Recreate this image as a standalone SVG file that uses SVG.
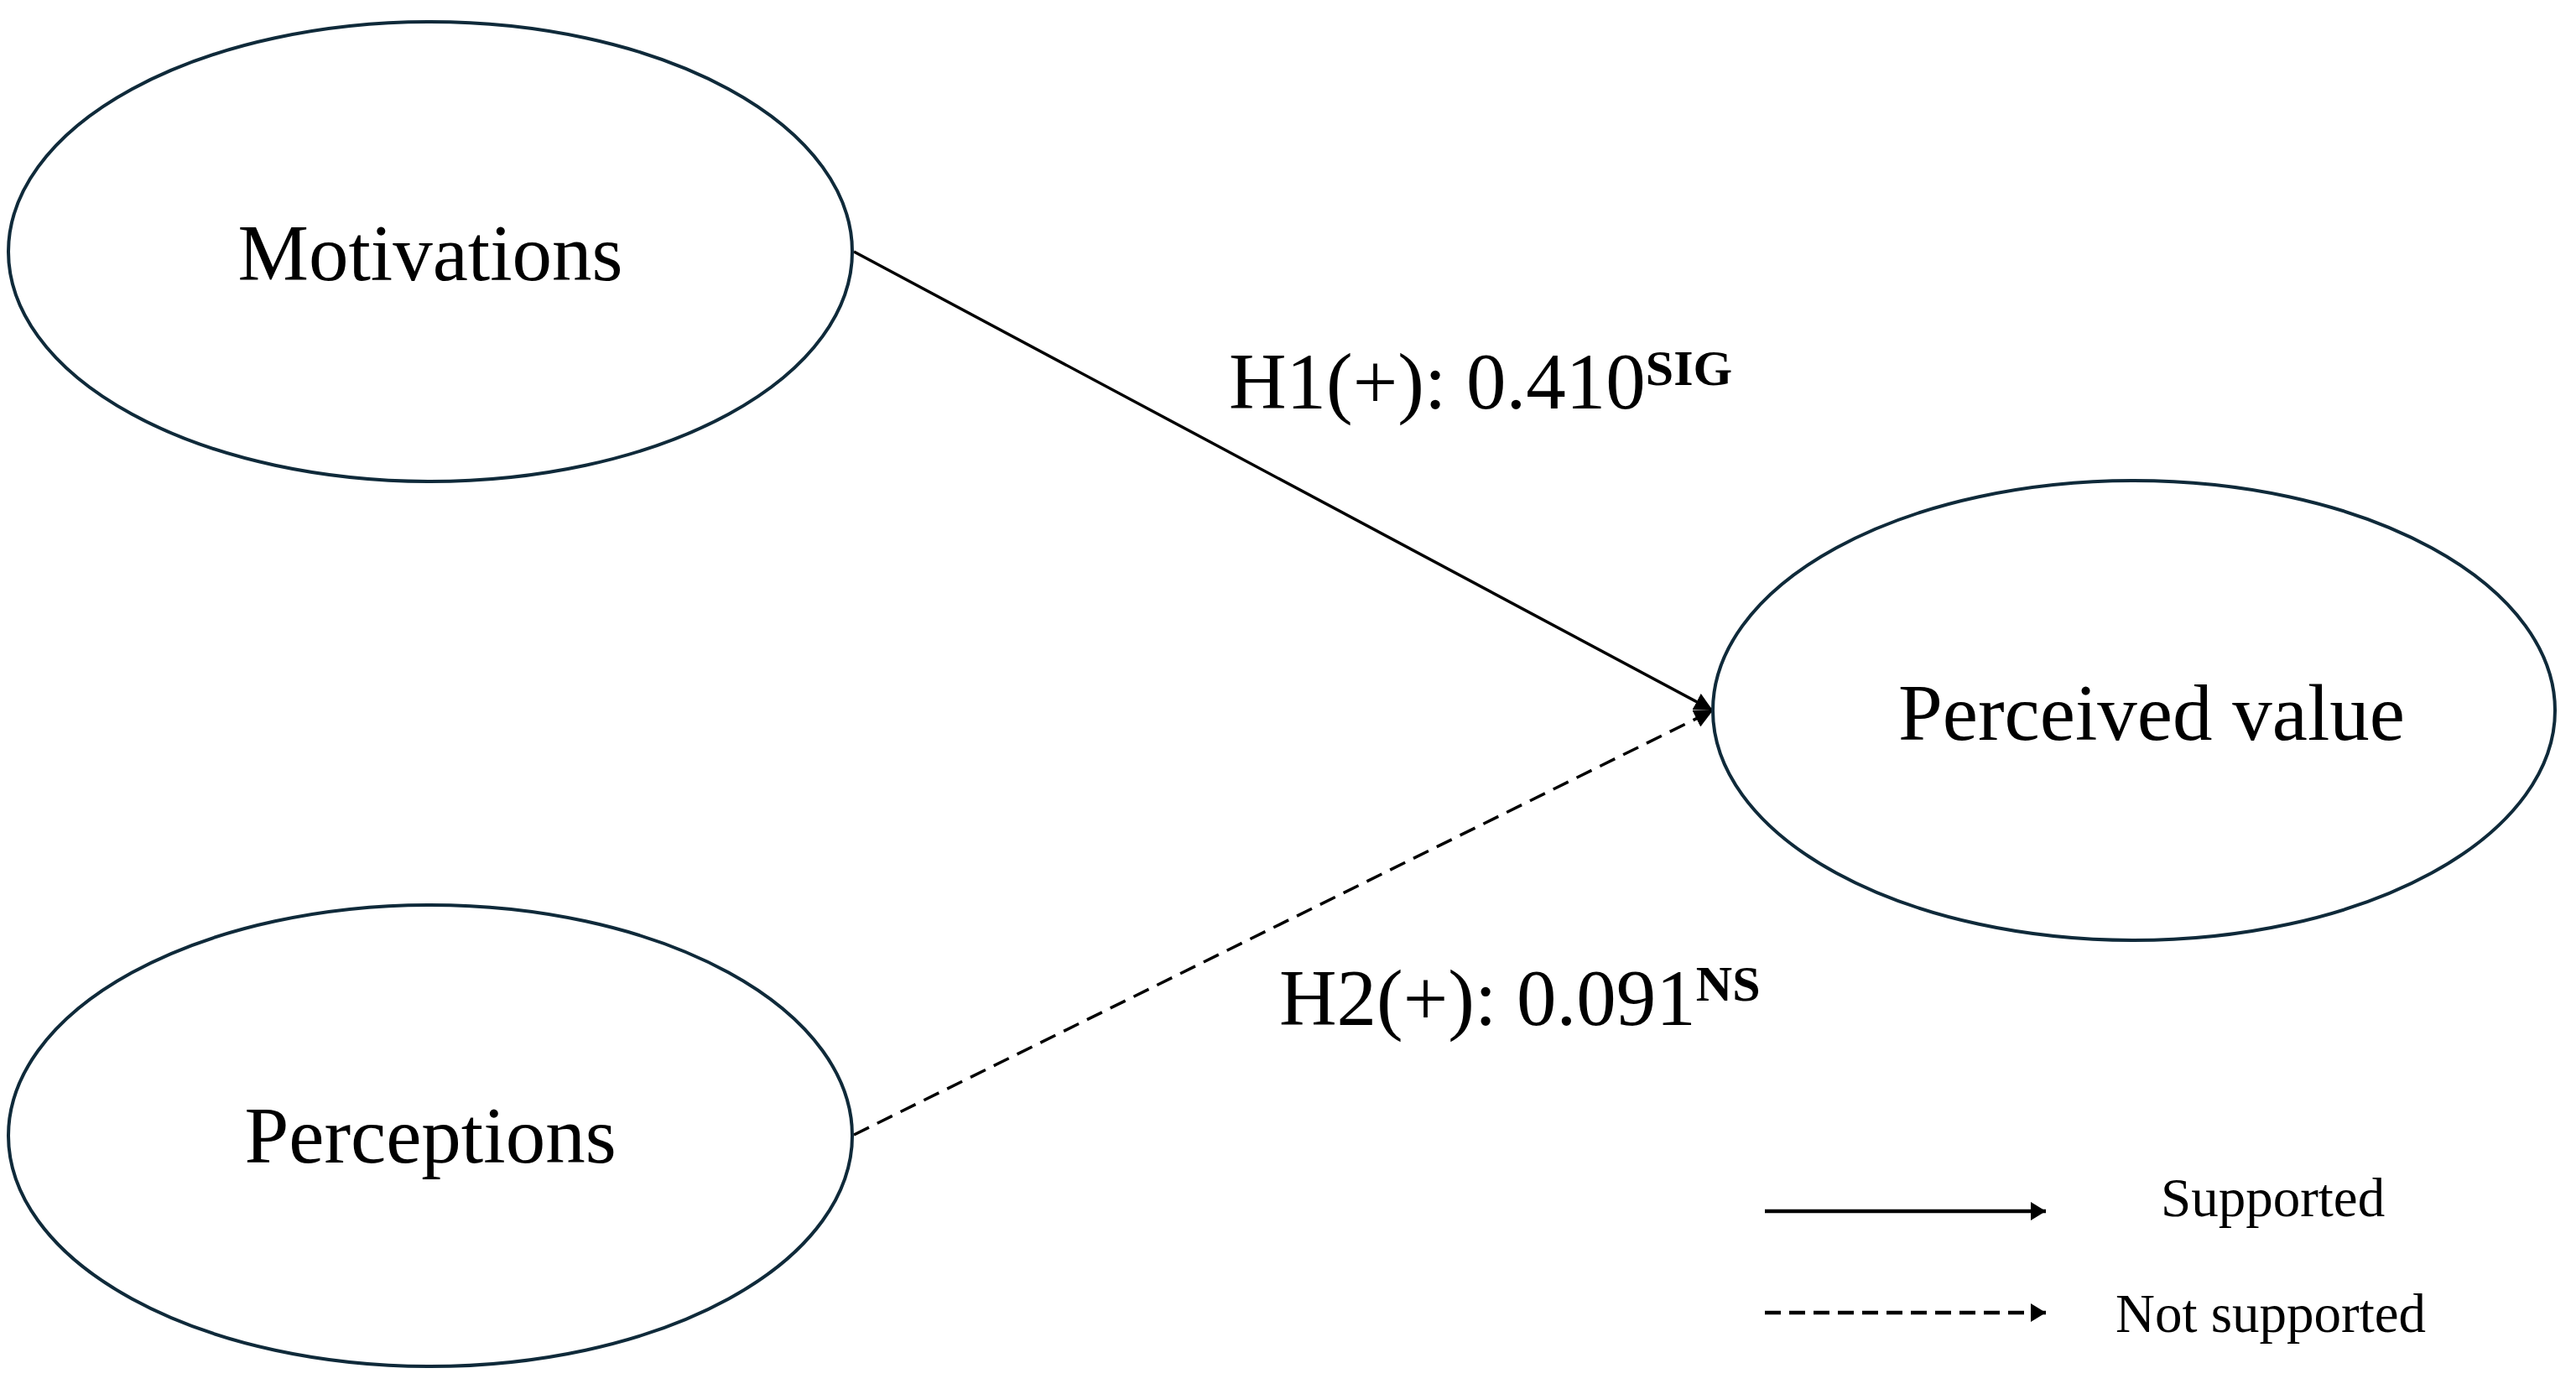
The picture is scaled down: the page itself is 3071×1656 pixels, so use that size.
<svg xmlns="http://www.w3.org/2000/svg" width="3071" height="1656" viewBox="0 0 3071 1656">
<style>
.node{fill:#ffffff;stroke:#0f2a3a;stroke-width:4}
.lbl{font-family:"Liberation Serif","Times New Roman",serif;fill:#000;font-size:95px}
.leg{font-family:"Liberation Serif","Times New Roman",serif;fill:#000;font-size:65px}
.sup{font-weight:bold;font-size:60px}
.conn{stroke:#000;stroke-width:3.5;fill:none}
.dash{stroke-dasharray:20 11}
.legline{stroke:#000;stroke-width:4.5;fill:none}
</style>
<defs>
<marker id="ah" markerUnits="userSpaceOnUse" markerWidth="24" markerHeight="22" refX="22" refY="11" orient="auto">
<path d="M0,0 L22,11 L0,22 Z" fill="#000"/>
</marker>
<marker id="ahl" markerUnits="userSpaceOnUse" markerWidth="20" markerHeight="22" refX="18" refY="11" orient="auto">
<path d="M0,0 L18,11 L0,22 Z" fill="#000"/>
</marker>
</defs>
<rect width="3071" height="1656" fill="#ffffff"/>
<g id="connectors">
<line class="conn" x1="1018" y1="300" x2="2042" y2="847" marker-end="url(#ah)"/>
<line class="conn dash" x1="1018" y1="1353" x2="2042" y2="847" marker-end="url(#ah)"/>
<text class="lbl" x="1465" y="487">H1(+): 0.410<tspan class="sup" dy="-28">SIG</tspan></text>
<text class="lbl" x="1525" y="1222">H2(+): 0.091<tspan class="sup" dy="-29">NS</tspan></text>
</g>
<g id="node-motivations">
<ellipse class="node" cx="513" cy="300" rx="503" ry="274"/>
<text class="lbl" x="513" y="334" text-anchor="middle">Motivations</text>
</g>
<g id="node-perceptions">
<ellipse class="node" cx="513" cy="1354" rx="503" ry="275"/>
<text class="lbl" x="513" y="1386" text-anchor="middle">Perceptions</text>
</g>
<g id="node-perceived-value">
<ellipse class="node" cx="2544" cy="847" rx="502" ry="274"/>
<text class="lbl" x="2565" y="882" text-anchor="middle">Perceived value</text>
</g>
<g id="legend">
<line class="legline" x1="2104" y1="1444" x2="2439" y2="1444" marker-end="url(#ahl)"/>
<text class="leg" x="2576" y="1450">Supported</text>
<line class="legline" x1="2104" y1="1565" x2="2439" y2="1565" stroke-dasharray="19 10" marker-end="url(#ahl)"/>
<text class="leg" x="2522" y="1588">Not supported</text>
</g>
</svg>
